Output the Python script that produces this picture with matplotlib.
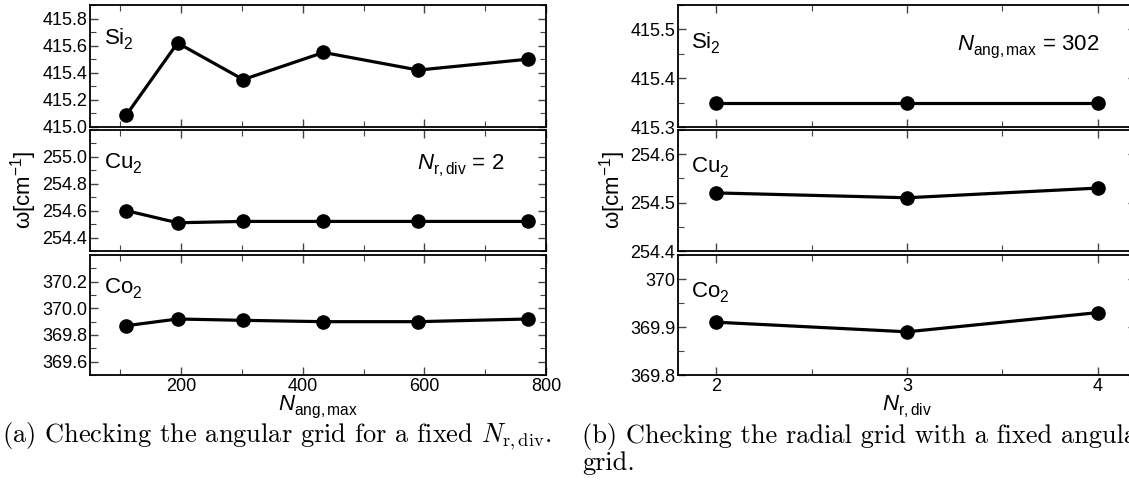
import numpy as np
import matplotlib
matplotlib.use('Agg')
import matplotlib.pyplot as plt
from matplotlib.ticker import MultipleLocator, FixedLocator, FormatStrFormatter

# data
n_ang = [110, 194, 302, 434, 590, 770]
si2_ang = [415.09, 415.62, 415.35, 415.55, 415.42, 415.50]
cu2_ang = [254.60, 254.51, 254.52, 254.52, 254.52, 254.52]
co2_ang = [369.87, 369.92, 369.91, 369.90, 369.90, 369.92]

n_rdiv = [2, 3, 4]
si2_r = [415.35, 415.35, 415.35]
cu2_r = [254.52, 254.51, 254.53]
co2_r = [369.91, 369.89, 369.93]

names = ['Si$_2$', 'Cu$_2$', 'Co$_2$']

plt.rcParams['font.family'] = ['Liberation Sans', 'DejaVu Sans']
plt.rcParams['mathtext.fontset'] = 'custom'
plt.rcParams['mathtext.rm'] = 'Liberation Sans'
plt.rcParams['mathtext.it'] = 'Liberation Sans:italic'
plt.rcParams['mathtext.bf'] = 'Liberation Sans:bold'

# push subscripts a bit lower, like the original plotting program
try:
    import matplotlib._mathtext as _mt
    _mt.FontConstantsBase.sub1 = 0.45
    _mt.FontConstantsBase.sub2 = 0.6
except Exception:
    pass

W, H = 1129, 490
fig = plt.figure(figsize=(W / 100, H / 100), dpi=100)

def box(x0, x1, ytop, ybot):
    return [x0 / W, 1 - ybot / H, (x1 - x0) / W, (ybot - ytop) / H]

rows = [(5, 127), (130, 251), (255, 375)]

# left column: angular grid
left_ylim = [(415.0, 415.9), (254.3, 255.2), (369.5, 370.4)]
left_yt = [[415.0, 415.2, 415.4, 415.6, 415.8],
           [254.4, 254.6, 254.8, 255.0],
           [369.6, 369.8, 370.0, 370.2]]
left_data = [si2_ang, cu2_ang, co2_ang]

# right column: radial grid
right_ylim = [(415.3, 415.55), (254.4, 254.65), (369.8, 370.05)]
right_yt = [[415.3, 415.4, 415.5], [254.4, 254.5, 254.6], [369.8, 369.9, 370.0]]
right_data = [si2_r, cu2_r, co2_r]

def style(ax):
    ax.tick_params(which='both', direction='in', top=True, right=True,
                   labelsize=13, pad=2, color='#444444')
    ax.tick_params(which='major', length=6, width=1)
    ax.tick_params(which='minor', length=4, width=0.8)
    for s in ax.spines.values():
        s.set_linewidth(1.3)

left_axes = []
for i in range(3):
    ax = fig.add_axes(box(90, 546, *rows[i]))
    ax.plot(n_ang, left_data[i], '-o', color='black', lw=2.3, ms=9.5)
    ax.set_xlim(50, 800)
    ax.set_ylim(*left_ylim[i])
    ax.xaxis.set_major_locator(MultipleLocator(200))
    ax.xaxis.set_minor_locator(MultipleLocator(100))
    ax.yaxis.set_major_locator(FixedLocator(left_yt[i]))
    ax.yaxis.set_minor_locator(MultipleLocator(0.1))
    ax.yaxis.set_major_formatter(FormatStrFormatter('%.1f'))
    style(ax)
    if i < 2:
        ax.tick_params(labelbottom=False)
    ax.text(0.03, 0.82, names[i], transform=ax.transAxes, fontsize=16,
            ha='left', va='top')
    left_axes.append(ax)

left_axes[1].text(0.717, 0.81, r'$N_{\mathrm{r,div}}$ = 2', transform=left_axes[1].transAxes,
                  fontsize=16, ha='left', va='top')
left_axes[2].set_xlabel(r'$N_{\mathrm{ang,max}}$', fontsize=16, labelpad=-1)

right_axes = []
for i in range(3):
    ax = fig.add_axes(box(678, 1136, *rows[i]))
    ax.plot(n_rdiv, right_data[i], '-o', color='black', lw=2.3, ms=9.5)
    ax.set_xlim(1.8, 4.2)
    ax.set_ylim(*right_ylim[i])
    ax.xaxis.set_major_locator(MultipleLocator(1))
    ax.xaxis.set_minor_locator(MultipleLocator(0.5))
    ax.yaxis.set_major_locator(FixedLocator(right_yt[i]))
    ax.yaxis.set_minor_locator(MultipleLocator(0.05))
    ax.yaxis.set_major_formatter(FormatStrFormatter('%g'))
    style(ax)
    if i < 2:
        ax.tick_params(labelbottom=False)
    ax.text(0.028, 0.79, names[i], transform=ax.transAxes, fontsize=16,
            ha='left', va='top')
    right_axes.append(ax)

right_axes[0].text(0.609, 0.77, r'$N_{\mathrm{ang,max}}$ = 302', transform=right_axes[0].transAxes,
                   fontsize=16, ha='left', va='top')
right_axes[2].set_xlabel(r'$N_{\mathrm{r,div}}$', fontsize=16, labelpad=-1)

fig.text(24 / W, 1 - 190 / H, r'ω[cm$^{-1}$]', rotation=90, fontsize=16,
         ha='center', va='center')
fig.text(613 / W, 1 - 190 / H, r'ω[cm$^{-1}$]', rotation=90, fontsize=16,
         ha='center', va='center')

# captions in computer modern
cap = dict(fontsize=19, family='cmr10', math_fontfamily='cm', ha='left', va='center')
fig.text(2 / W, 1 - 436 / H, r'(a) Checking the angular grid for a fixed $N_{\mathrm{r,div}}$.', **cap)
fig.text(582 / W, 1 - 436 / H, '(b) Checking the radial grid with a fixed angular', **cap)
fig.text(582 / W, 1 - 463 / H, 'grid.', **cap)

fig.savefig('out.png', dpi=100)
